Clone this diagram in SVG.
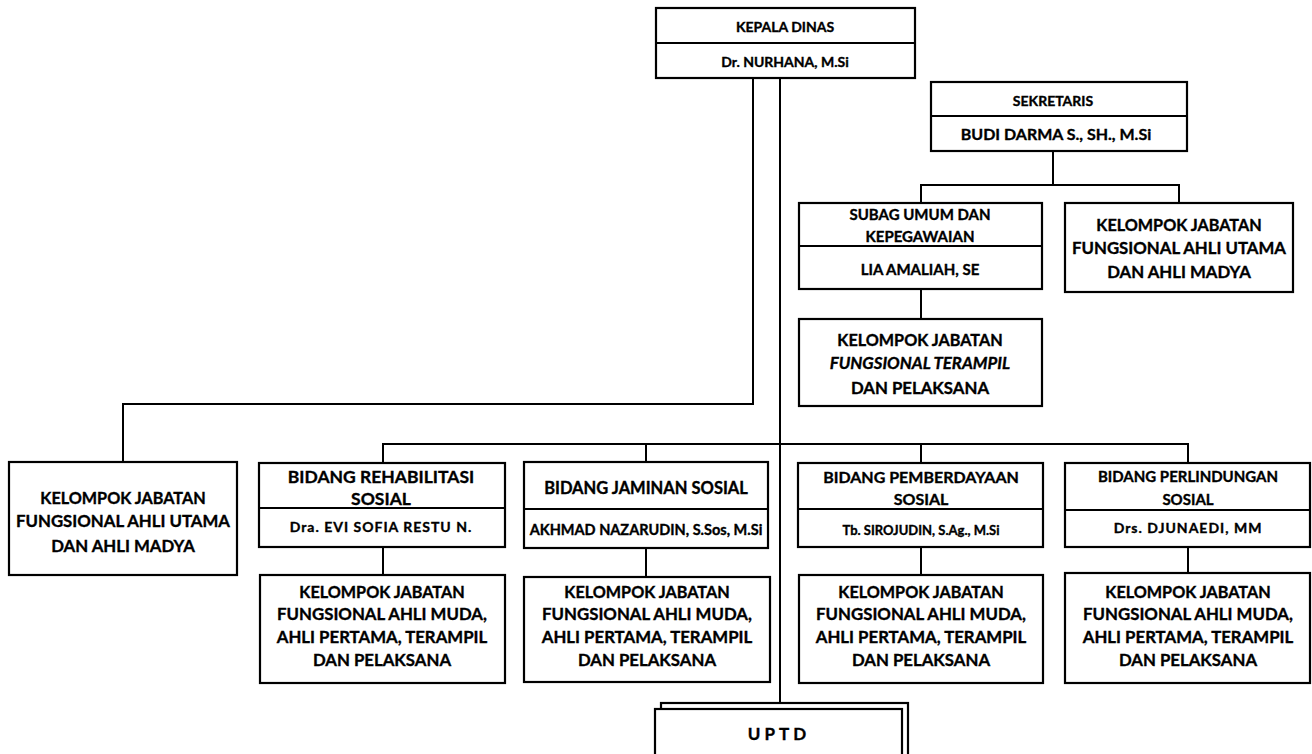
<svg xmlns="http://www.w3.org/2000/svg" width="1312" height="754" viewBox="0 0 1312 754">
<style>
.box{fill:#fff;stroke:#000;stroke-width:2.2}
.ln{fill:none;stroke:#000;stroke-width:2}
text{font-family:Lato,"Liberation Sans",sans-serif;font-weight:bold;fill:#000;stroke:#000;stroke-width:0.35;text-anchor:middle}
.s{font-size:14px}
.m{font-size:16px}
.sb{font-size:15px}
.b{font-size:16.8px}
.kj{font-size:16.2px}
.x{font-size:14px}
</style>
<rect width="1312" height="754" fill="#fff"/>
<g id="connectors">
<path class="ln" d="M753 78V404H123V462"/>
<path class="ln" d="M780 78V703"/>
<path class="ln" d="M1053 151V185M921 203V185H1179V203"/>
<path class="ln" d="M921 289V319"/>
<path class="ln" d="M383 463V444H1188V463M646 444V462M921 444V463"/>
<path class="ln" d="M383 547V575M646 548V577M921 547V575M1188 547V573"/>
</g>
<g id="kepala">
<rect class="box" x="656" y="8" width="259" height="70"/>
<line class="ln" x1="656" y1="43" x2="915" y2="43"/>
<text class="s" x="785" y="32">KEPALA DINAS</text>
<text class="s" x="785" y="67">Dr. NURHANA, M.Si</text>
</g>
<g id="sekretaris">
<rect class="box" x="931" y="82" width="256" height="69"/>
<line class="ln" x1="931" y1="116" x2="1187" y2="116"/>
<text class="s" x="1053" y="106">SEKRETARIS</text>
<text class="m" x="1056" y="140">BUDI DARMA S., SH., M.Si</text>
</g>
<g id="subag">
<rect class="box" x="799" y="203" width="243" height="86"/>
<line class="ln" x1="799" y1="246" x2="1042" y2="246"/>
<text class="sb" x="920" y="220">SUBAG UMUM DAN</text>
<text class="sb" x="920" y="242">KEPEGAWAIAN</text>
<text class="sb" x="920" y="275">LIA AMALIAH, SE</text>
</g>
<g id="kel-utama-kanan">
<rect class="box" x="1065" y="203" width="228" height="89"/>
<text class="kj" x="1179" y="231">KELOMPOK JABATAN</text>
<text class="b" x="1179" y="254">FUNGSIONAL AHLI UTAMA</text>
<text class="b" x="1179" y="278">DAN AHLI MADYA</text>
</g>
<g id="kel-terampil">
<rect class="box" x="799" y="319" width="243" height="87"/>
<text class="kj" x="920" y="346">KELOMPOK JABATAN</text>
<text class="b" x="920" y="369" font-style="italic">FUNGSIONAL TERAMPIL</text>
<text class="b" x="920" y="394">DAN PELAKSANA</text>
</g>
<g id="kel-utama-kiri">
<rect class="box" x="9" y="462" width="228" height="113"/>
<text class="kj" x="123" y="504">KELOMPOK JABATAN</text>
<text class="b" x="123" y="527">FUNGSIONAL AHLI UTAMA</text>
<text class="b" x="123" y="552">DAN AHLI MADYA</text>
</g>
<g id="bidang-rehab">
<rect class="box" x="259" y="463" width="246" height="84"/>
<line class="ln" x1="259" y1="508" x2="505" y2="508"/>
<text x="381" y="483" font-size="17.5">BIDANG REHABILITASI</text>
<text x="381" y="505" font-size="17.5">SOSIAL</text>
<text class="x" x="381" y="532" letter-spacing="1">Dra. EVI SOFIA RESTU N.</text>
</g>
<g id="bidang-jaminan">
<rect class="box" x="524" y="462" width="244" height="86"/>
<line class="ln" x1="524" y1="509" x2="768" y2="509"/>
<text x="646" y="494" font-size="16.5">BIDANG JAMINAN SOSIAL</text>
<text x="646" y="535" font-size="14.5">AKHMAD NAZARUDIN, S.Sos, M.Si</text>
</g>
<g id="bidang-pemberdayaan">
<rect class="box" x="798" y="463" width="245" height="84"/>
<line class="ln" x1="798" y1="509" x2="1043" y2="509"/>
<text class="m" x="921" y="483">BIDANG PEMBERDAYAAN</text>
<text class="m" x="921" y="505">SOSIAL</text>
<text x="921" y="535" font-size="13">Tb. SIROJUDIN, S.Ag., M.Si</text>
</g>
<g id="bidang-perlindungan">
<rect class="box" x="1065" y="463" width="245" height="84"/>
<line class="ln" x1="1065" y1="510" x2="1310" y2="510"/>
<text x="1188" y="482" font-size="15">BIDANG PERLINDUNGAN</text>
<text x="1188" y="505" font-size="15">SOSIAL</text>
<text class="x" x="1188" y="533" letter-spacing="1">Drs. DJUNAEDI, MM</text>
</g>
<g id="kel-rehab">
<rect class="box" x="260" y="575" width="245" height="108"/>
<text class="kj" x="382" y="598">KELOMPOK JABATAN</text>
<text class="b" x="382" y="620">FUNGSIONAL AHLI MUDA,</text>
<text class="b" x="382" y="643">AHLI PERTAMA, TERAMPIL</text>
<text class="b" x="382" y="666">DAN PELAKSANA</text>
</g>
<g id="kel-jaminan">
<rect class="box" x="524" y="577" width="246" height="105"/>
<text class="kj" x="647" y="598">KELOMPOK JABATAN</text>
<text class="b" x="647" y="620">FUNGSIONAL AHLI MUDA,</text>
<text class="b" x="647" y="643">AHLI PERTAMA, TERAMPIL</text>
<text class="b" x="647" y="666">DAN PELAKSANA</text>
</g>
<g id="kel-pemberdayaan">
<rect class="box" x="799" y="575" width="244" height="108"/>
<text class="kj" x="921" y="598">KELOMPOK JABATAN</text>
<text class="b" x="921" y="620">FUNGSIONAL AHLI MUDA,</text>
<text class="b" x="921" y="643">AHLI PERTAMA, TERAMPIL</text>
<text class="b" x="921" y="666">DAN PELAKSANA</text>
</g>
<g id="kel-perlindungan">
<rect class="box" x="1065" y="573" width="245" height="110"/>
<text class="kj" x="1188" y="598">KELOMPOK JABATAN</text>
<text class="b" x="1188" y="620">FUNGSIONAL AHLI MUDA,</text>
<text class="b" x="1188" y="643">AHLI PERTAMA, TERAMPIL</text>
<text class="b" x="1188" y="666">DAN PELAKSANA</text>
</g>
<g id="uptd">
<rect class="box" x="661" y="703" width="247" height="60"/>
<rect class="box" x="655" y="709" width="247" height="60"/>
<text x="779" y="740" font-size="17" font-weight="900" letter-spacing="4">UPTD</text>
</g>
</svg>
